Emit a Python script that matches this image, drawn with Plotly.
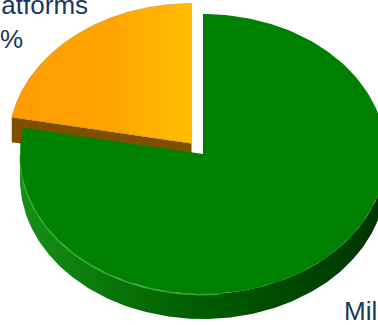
import numpy as np
import plotly.graph_objects as go

# Pie data (clockwise from 12 o'clock)
labels = ["Military", "Other Platforms"]
values = [78, 22]
top_colors = ["#008000", "#FFA500"]
side_colors = ["#0B6E0B", "#7F4F00"]
explode = [0, 18]

# 3D pie geometry in pixel space (y grows downward)
CX, CY = 203, 154
RX, RY = 183, 140
DEPTH = 25
N = 240


def pt(cx, cy, t_deg, dz=0.0):
    t = np.radians(t_deg)
    return cx + RX * np.cos(t), cy - RY * np.sin(t) + dz


def arc(cx, cy, t0, t1, dz=0.0, n=N):
    ts = np.linspace(t0, t1, n)
    return pt(cx, cy, ts, dz)


total = float(sum(values))
slices = []
start = 90.0
for lab, v, tc, sc, ex in zip(labels, values, top_colors, side_colors, explode):
    sweep = 360.0 * v / total
    end = start - sweep
    mid = (start + end) / 2.0
    m = np.radians(mid)
    cx = CX + ex * np.cos(m)
    cy = CY - ex * (RY / RX) * np.sin(m)
    slices.append(dict(label=lab, value=v, t0=start, t1=end, mid=mid,
                       cx=cx, cy=cy, top=tc, side=sc))
    start = end

# paint the slices lying further back first
slices.sort(key=lambda s: -np.sin(np.radians(s["mid"])))

fig = go.Figure()

for s in slices:
    hi, lo = s["t0"], s["t1"]
    cx, cy = s["cx"], s["cy"]
    is_green = s["top"] == "#008000"

    # visible radial cut face at the starting edge
    if np.cos(np.radians(hi)) < -1e-6:
        x0, y0 = pt(cx, cy, hi)
        fig.add_trace(go.Scatter(
            x=[cx, x0, x0, cx, cx], y=[cy, y0, y0 + DEPTH, cy + DEPTH, cy],
            fill="toself", mode="lines", line=dict(width=0),
            fillcolor=s["side"], hoverinfo="skip", showlegend=False))
    # visible radial cut face at the ending edge
    if np.cos(np.radians(lo)) > 1e-6:
        x1, y1 = pt(cx, cy, lo)
        fig.add_trace(go.Scatter(
            x=[cx, x1, x1, cx, cx], y=[cy, y1, y1 + DEPTH, cy + DEPTH, cy],
            fill="toself", mode="lines", line=dict(width=0),
            fillcolor=s["side"], hoverinfo="skip", showlegend=False))

    # visible outer wall: the part of the arc on the front half of the ellipse
    for k in range(-2, 2):
        a0 = max(lo, 180.0 + 360.0 * k)
        a1 = min(hi, 360.0 + 360.0 * k)
        if a1 - a0 > 0.5:
            xt, yt = arc(cx, cy, a0, a1)
            xb, yb = arc(cx, cy, a1, a0, DEPTH)
            xs = np.concatenate([xt, xb, xt[:1]])
            ys = np.concatenate([yt, yb, yt[:1]])
            if is_green:
                grad = dict(type="horizontal",
                            colorscale=[[0, "#169016"], [0.45, "#006000"],
                                        [1, "#003300"]])
            else:
                grad = dict(type="horizontal",
                            colorscale=[[0, "#8A5600"], [1, "#5E3A00"]])
            fig.add_trace(go.Scatter(
                x=xs, y=ys, fill="toself", mode="lines", line=dict(width=0),
                fillgradient=grad, hoverinfo="skip", showlegend=False))
            if is_green:
                # soft highlight along the rim of the top face
                r0, r1 = a0, min(a1, a0 + 95)
                xr, yr = arc(cx, cy, r0, r1, 0.8)
                fig.add_trace(go.Scatter(
                    x=xr, y=yr, mode="lines",
                    line=dict(color="rgba(70,190,70,0.75)", width=1.6),
                    hoverinfo="skip", showlegend=False))

    # top face
    xa, ya = arc(cx, cy, hi, lo)
    xs = np.concatenate([[cx], xa, [cx]])
    ys = np.concatenate([[cy], ya, [cy]])
    if is_green:
        fig.add_trace(go.Scatter(
            x=xs, y=ys, fill="toself", mode="lines", line=dict(width=0),
            fillcolor=s["top"], name=s["label"], hoverinfo="name",
            showlegend=False))
    else:
        fig.add_trace(go.Scatter(
            x=xs, y=ys, fill="toself", mode="lines",
            line=dict(width=0.6, color="rgba(150,110,40,0.5)"),
            fillgradient=dict(type="horizontal",
                              colorscale=[[0, "#FF9C00"], [0.55, "#FFA400"],
                                          [1, "#FFBE00"]]),
            name=s["label"], hoverinfo="name", showlegend=False))

# data labels
pct = {lab: f"{round(100 * v / total)}%" for lab, v in zip(labels, values)}
label_font = dict(family="Liberation Sans, Arial, sans-serif", size=26,
                  color="#1B3660")
fig.add_annotation(x=2, y=22, xref="x", yref="y", xshift=-5,
                   xanchor="center", yanchor="middle", align="center",
                   showarrow=False,
                   text=f"Other Platforms<br>{pct['Other Platforms']}",
                   font=label_font)
fig.add_annotation(x=342, y=294, xref="x", yref="y", xanchor="left",
                   yanchor="top", align="left", showarrow=False,
                   text=f"Military<br>{pct['Military']}", font=label_font)

fig.update_layout(
    width=378, height=325, margin=dict(l=0, r=0, t=0, b=0),
    paper_bgcolor="white", plot_bgcolor="white",
    xaxis=dict(range=[0, 378], visible=False, fixedrange=True),
    yaxis=dict(range=[325, 0], visible=False, fixedrange=True),
)

fig.write_html("out.html")
